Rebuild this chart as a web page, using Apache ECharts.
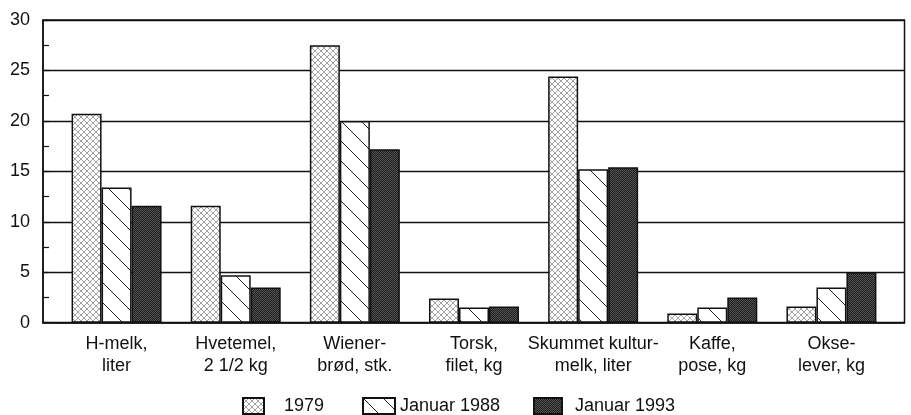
<!DOCTYPE html>
<html>
<head>
<meta charset="utf-8">
<script src="https://cdn.jsdelivr.net/npm/echarts@6/dist/echarts.min.js"></script>
<style>
html,body{margin:0;padding:0;background:#fff;}
#c{width:911px;height:415px;}
</style>
</head>
<body>
<div id="c"></div>
<script>
const categories = ['H-melk,\nliter', 'Hvetemel,\n2 1/2 kg', 'Wiener-\nbrød, stk.', 'Torsk,\nfilet, kg', 'Skummet kultur-\nmelk, liter', 'Kaffe,\npose, kg', 'Okse-\nlever, kg'];
const seriesNames = ['1979', 'Januar 1988', 'Januar 1993'];
const values1979 = [20.7, 11.6, 27.5, 2.4, 24.4, 0.9, 1.6];
const values1988 = [13.4, 4.7, 20.0, 1.5, 15.2, 1.5, 3.5];
const values1993 = [11.6, 3.5, 17.2, 1.6, 15.4, 2.5, 5.0];
const yTicks = [0, 5, 10, 15, 20, 25, 30];

function makeCanvas(w, h, draw) {
  const c = document.createElement('canvas');
  c.width = w; c.height = h;
  const ctx = c.getContext('2d');
  draw(ctx, w, h);
  return c;
}
const crossPat = makeCanvas(6, 6, (ctx, w, h) => {
  ctx.fillStyle = '#fff'; ctx.fillRect(0, 0, w, h);
  ctx.strokeStyle = '#999'; ctx.lineWidth = 0.9;
  ctx.beginPath();
  ctx.moveTo(0, 0); ctx.lineTo(w, h);
  ctx.moveTo(0, h); ctx.lineTo(w, 0);
  ctx.stroke();
});
const diagPat = makeCanvas(20, 20, (ctx, w, h) => {
  ctx.fillStyle = '#fff'; ctx.fillRect(0, 0, w, h);
  ctx.strokeStyle = '#222'; ctx.lineWidth = 1;
  ctx.beginPath();
  ctx.moveTo(-2, -2); ctx.lineTo(w + 2, h + 2);
  ctx.stroke();
});
const darkPat = makeCanvas(2, 2, (ctx, w, h) => {
  ctx.fillStyle = '#1c1c1c'; ctx.fillRect(0, 0, 2, 2);
  ctx.fillStyle = '#555'; ctx.fillRect(0, 0, 1, 1); ctx.fillRect(1, 1, 1, 1);
});

const font = 'Liberation Sans, Arial, Helvetica, sans-serif';
const chart = echarts.init(document.getElementById('c'), null, {renderer: 'canvas'});

function barSeries(name, data, pat) {
  return {
    name: name, type: 'bar', xAxisIndex: 0, yAxisIndex: 0,
    data: data, barWidth: 30, barGap: '0%',
    itemStyle: {color: {image: pat, repeat: 'repeat'}, borderColor: '#111', borderWidth: 1.5},
    z: 5
  };
}

function legendFor(name, left, w, pad) {
  return {
    data: [name], left: left, top: 397, itemWidth: w, itemHeight: 16, itemGap: 0,
    padding: 0, icon: 'rect',
    textStyle: {fontFamily: font, fontSize: 18, color: '#111', lineHeight: 16, padding: [0, 0, 0, pad]}
  };
}

chart.setOption({
  animation: false,
  backgroundColor: '#fff',
  grid: [
    {left: 57, right: 20, top: 20, bottom: 92.3},
    {left: 43, right: 6.5, top: 20, bottom: 92.3, show: true, borderColor: '#111', borderWidth: 1.5, backgroundColor: 'transparent'}
  ],
  legend: [
    legendFor('1979', 242, 21, 15),
    legendFor('Januar 1988', 362, 32, 0),
    legendFor('Januar 1993', 533, 28, 8)
  ],
  xAxis: [
    {
      type: 'category', gridIndex: 0, data: categories,
      axisLine: {show: false}, axisTick: {show: false},
      axisLabel: {fontFamily: font, fontSize: 18, color: '#111', lineHeight: 22, margin: 10, interval: 0}
    },
    {
      type: 'value', gridIndex: 1, min: 0, max: 1,
      axisLine: {show: true, lineStyle: {color: '#111', width: 1.5}},
      axisTick: {show: false}, axisLabel: {show: false}, splitLine: {show: false}
    }
  ],
  yAxis: [
    {type: 'value', gridIndex: 0, min: 0, max: 30, interval: 5, show: false, splitLine: {show: false}},
    {
      type: 'value', gridIndex: 1, min: 0, max: 30, interval: 5,
      axisLine: {show: true, lineStyle: {color: '#111', width: 1.5}},
      axisTick: {show: true, inside: true, length: 6, lineStyle: {color: '#111', width: 1.2}},
      minorTick: {show: true, splitNumber: 2, length: 6, lineStyle: {color: '#111', width: 1.2}},
      axisLabel: {fontFamily: font, fontSize: 18, color: '#111', margin: 13,
        formatter: v => yTicks.indexOf(v) >= 0 ? String(v) : ''},
      splitLine: {show: true, lineStyle: {color: '#111', width: 1.3}}
    }
  ],
  series: [
    barSeries(seriesNames[0], values1979, crossPat),
    barSeries(seriesNames[1], values1988, diagPat),
    barSeries(seriesNames[2], values1993, darkPat),
    {type: 'scatter', xAxisIndex: 1, yAxisIndex: 1, data: [], silent: true}
  ]
});
</script>
</body>
</html>
